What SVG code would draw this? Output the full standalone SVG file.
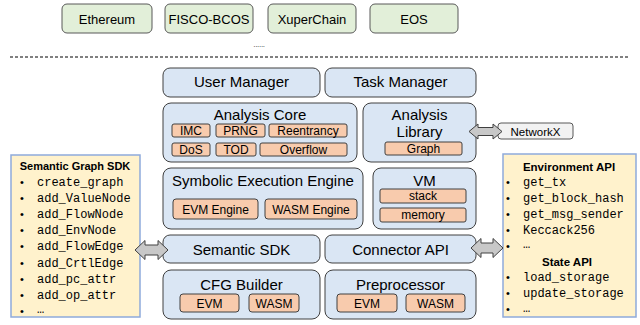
<svg xmlns="http://www.w3.org/2000/svg" width="640" height="325" viewBox="0 0 640 325">
<style>
text{font-family:"Liberation Sans",Arial,sans-serif;fill:#000}
.chain{fill:#e2efd9;stroke:#595959;stroke-width:1}
.blue{fill:#dae6f4;stroke:#404040;stroke-width:1}
.org{fill:#f8cbad;stroke:#404040;stroke-width:1}
.api{fill:#fff2cc;stroke:#8eaadb;stroke-width:1.5}
.ext{fill:#f2f2f2;stroke:#595959;stroke-width:1}
.arr{fill:#c8c8c8;stroke:#404040;stroke-width:1}
.h{font-size:15px;text-anchor:middle}
.s{font-size:12px;text-anchor:middle}
.c{font-size:13px;text-anchor:middle}
.t{font-size:11.5px;font-weight:bold;text-anchor:middle}
.m{font-family:"Liberation Mono","Courier New",monospace;font-size:12px}
.b{font-size:11px}
</style>
<g id="chains">
<g id="ethereum"><rect class="chain" x="62" y="4" width="90" height="29" rx="5"/><text class="c" x="107" y="23.5">Ethereum</text></g>
<g id="fisco"><rect class="chain" x="165" y="4" width="88" height="29" rx="5"/><text class="c" x="209" y="23.5">FISCO-BCOS</text></g>
<g id="xuper"><rect class="chain" x="268" y="4" width="88" height="29" rx="5"/><text class="c" x="312" y="23.5">XuperChain</text></g>
<g id="eos"><rect class="chain" x="370" y="4" width="88" height="29" rx="5"/><text class="c" x="414" y="23.5">EOS</text></g>
<text x="259" y="47" style="font-size:8px;text-anchor:middle;fill:#333;letter-spacing:-0.3px">......</text>
</g>
<line x1="10" y1="57" x2="630" y2="57" stroke="#000" stroke-width="1" stroke-dasharray="3,2"/>
<g id="user-manager"><rect class="blue" x="163" y="68" width="157" height="29" rx="7"/><text class="h" x="241.5" y="87">User Manager</text></g>
<g id="task-manager"><rect class="blue" x="325" y="68" width="151" height="29" rx="7"/><text class="h" x="400.5" y="87">Task Manager</text></g>
<g id="analysis-core"><rect class="blue" x="163" y="103" width="194" height="59" rx="8"/><text class="h" x="260" y="120">Analysis Core</text>
<rect class="org" x="172" y="124" width="38" height="13" rx="2"/><text class="s" x="191" y="135">IMC</text>
<rect class="org" x="216" y="124" width="49" height="13" rx="2"/><text class="s" x="240.5" y="135">PRNG</text>
<rect class="org" x="269" y="124" width="78" height="13" rx="2"/><text class="s" x="308" y="135">Reentrancy</text>
<rect class="org" x="172" y="143" width="38" height="13" rx="2"/><text class="s" x="191" y="154">DoS</text>
<rect class="org" x="216" y="143" width="40" height="13" rx="2"/><text class="s" x="236" y="154">TOD</text>
<rect class="org" x="260" y="143" width="87" height="13" rx="2"/><text class="s" x="303.5" y="154">Overflow</text>
</g>
<g id="analysis-library"><rect class="blue" x="363" y="103" width="113" height="59" rx="8"/><text class="h" x="419.5" y="120">Analysis</text><text class="h" x="419.5" y="137">Library</text>
<rect class="org" x="385" y="142" width="77" height="13" rx="2"/><text class="s" x="423.5" y="153">Graph</text></g>
<g id="networkx"><rect class="ext" x="498" y="123" width="75" height="16" rx="3"/><text x="535.5" y="135.5" style="font-size:11.5px;text-anchor:middle">NetworkX</text></g>
<g id="symbolic"><rect class="blue" x="163" y="168" width="200" height="61" rx="8"/><text class="h" x="263" y="186">Symbolic Execution Engine</text>
<rect class="org" x="173" y="199" width="85" height="20" rx="3"/><text class="s" x="215.5" y="213.5">EVM Engine</text>
<rect class="org" x="265" y="199" width="92" height="20" rx="3"/><text class="s" x="311" y="213.5">WASM Engine</text></g>
<g id="vm"><rect class="blue" x="373" y="168" width="103" height="61" rx="8"/><text class="h" x="424.5" y="186">VM</text>
<rect class="org" x="380" y="189" width="86" height="14" rx="2"/><text class="s" x="423" y="200">stack</text>
<rect class="org" x="380" y="208" width="86" height="14" rx="2"/><text class="s" x="423" y="219">memory</text></g>
<g id="semantic-sdk"><rect class="blue" x="163" y="235" width="157" height="28" rx="7"/><text class="h" x="241.5" y="255">Semantic SDK</text></g>
<g id="connector-api"><rect class="blue" x="325" y="235" width="151" height="28" rx="7"/><text class="h" x="400.5" y="255">Connector API</text></g>
<g id="cfg-builder"><rect class="blue" x="163" y="270" width="157" height="49" rx="8"/><text class="h" x="241.5" y="290">CFG Builder</text>
<rect class="org" x="180" y="294" width="59" height="18" rx="3"/><text class="s" x="209.5" y="307.5">EVM</text>
<rect class="org" x="249" y="294" width="50" height="18" rx="3"/><text class="s" x="274" y="307.5">WASM</text></g>
<g id="preprocessor"><rect class="blue" x="325" y="270" width="151" height="49" rx="8"/><text class="h" x="400.5" y="290">Preprocessor</text>
<rect class="org" x="337" y="294" width="60" height="18" rx="3"/><text class="s" x="367" y="307.5">EVM</text>
<rect class="org" x="406" y="294" width="59" height="18" rx="3"/><text class="s" x="435.5" y="307.5">WASM</text></g>
<g id="semantic-graph-sdk"><rect class="api" x="11" y="155" width="129" height="162"/>
<text x="75" y="170" style="font-size:11px;font-weight:bold;text-anchor:middle">Semantic Graph SDK</text>
<g class="b"><text x="20" y="185.5">•</text><text x="20" y="201.7">•</text><text x="20" y="217.9">•</text><text x="20" y="234.1">•</text><text x="20" y="250.3">•</text><text x="20" y="266.5">•</text><text x="20" y="282.7">•</text><text x="20" y="298.9">•</text><text x="20" y="314.5">•</text></g>
<text class="m" x="37" y="185.5">create_graph</text>
<text class="m" x="37" y="201.7">add_ValueNode</text>
<text class="m" x="37" y="217.9">add_FlowNode</text>
<text class="m" x="37" y="234.1">add_EnvNode</text>
<text class="m" x="37" y="250.3">add_FlowEdge</text>
<text class="m" x="37" y="266.5">add_CrtlEdge</text>
<text class="m" x="37" y="282.7">add_pc_attr</text>
<text class="m" x="37" y="298.9">add_op_attr</text>
<text class="m" x="37" y="313">…</text>
</g>
<g id="environment-api"><rect class="api" x="503" y="154" width="133" height="163"/>
<text class="t" x="569" y="171">Environment API</text>
<g class="b"><text x="506" y="186">•</text><text x="506" y="202">•</text><text x="506" y="218">•</text><text x="506" y="233.5">•</text><text x="506" y="249.5">•</text><text x="506" y="281">•</text><text x="506" y="297">•</text><text x="506" y="313">•</text></g>
<text class="m" x="523" y="186">get_tx</text>
<text class="m" x="523" y="202">get_block_hash</text>
<text class="m" x="523" y="218">get_msg_sender</text>
<text class="m" x="523" y="233.5">Keccack256</text>
<text class="m" x="523" y="248">…</text>
<text class="t" x="567" y="266">State API</text>
<text class="m" x="523" y="281">load_storage</text>
<text class="m" x="523" y="297">update_storage</text>
<text class="m" x="523" y="311.5">…</text>
</g>
<g id="connectors">
<path class="arr" d="M135,250 L145,240.5 L145,245 L158,245 L158,240.5 L168,250 L158,259.5 L158,255 L145,255 L145,259.5 Z"/>
<path class="arr" d="M471,248 L481,238.5 L481,243 L493,243 L493,238.5 L503,248 L493,257.5 L493,253 L481,253 L481,257.5 Z"/>
<path class="arr" d="M469,131.5 L478,124 L478,127.5 L493,127.5 L493,124 L502,131.5 L493,139 L493,135.5 L478,135.5 L478,139 Z"/>
</g>
</svg>
